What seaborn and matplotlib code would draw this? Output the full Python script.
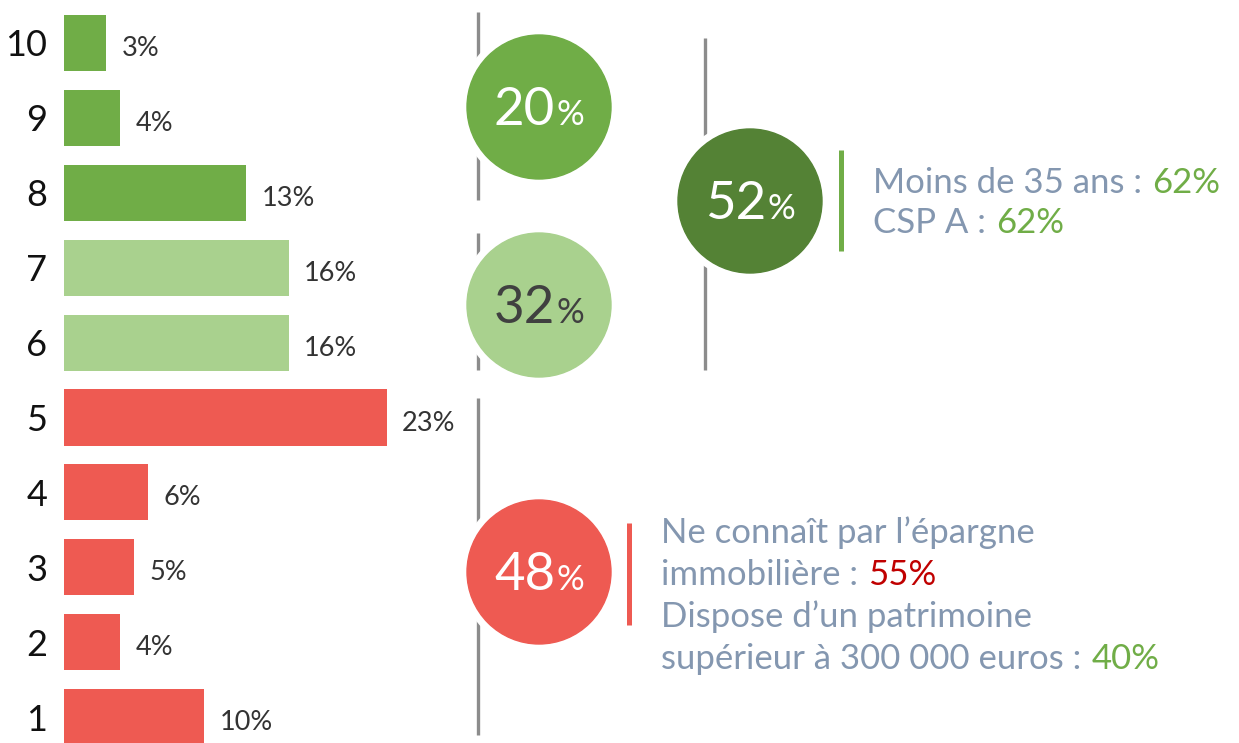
import matplotlib
matplotlib.use("Agg")
import matplotlib.pyplot as plt
import seaborn as sns
import pandas as pd
from matplotlib.patches import Circle

# --- data -------------------------------------------------------------
scores = ["10", "9", "8", "7", "6", "5", "4", "3", "2", "1"]
shares = [3, 4, 13, 16, 16, 23, 6, 5, 4, 10]
groups = ["prom", "prom", "prom", "pass", "pass",
          "detr", "detr", "detr", "detr", "detr"]

group_share = {"prom": 20, "pass": 32, "detr": 48}
favourable = 52

detr_lines = ["Ne connaît par l’épargne", "immobilière :",
              "Dispose d’un patrimoine", "supérieur à 300 000 euros :"]
detr_vals = {"immobilière :": ("55%", "#C00000"),
             "supérieur à 300 000 euros :": ("40%", "#70AD47")}

colors = {"prom": "#70AD47", "pass": "#A9D18E", "detr": "#EE5A52"}
dark_green = "#548235"
grey_txt = "#8497B0"
line_grey = "#8C8C8C"

sns.set_style("white")
plt.rcParams["font.family"] = ["Lato", "DejaVu Sans"]

W, H = 1239, 743
fig = plt.figure(figsize=(W / 100, H / 100), dpi=100)

# --- bar chart ------------------------------------------------------------
df = pd.DataFrame({"score": scores, "share": shares, "group": groups})
ax = fig.add_axes([64 / W, 0, 421 / W, 1])
sns.barplot(data=df, x="share", y="score", hue="group", palette=colors,
            dodge=False, width=0.75, orient="h", legend=False,
            saturation=1, linewidth=0, ax=ax)
ax.set_xlim(0, 30)
ax.set_ylim(9.346, -0.574)
for c in ax.containers:
    anns = ax.bar_label(c, fmt="%g%%", padding=12, fontsize=19.5,
                        color="#333333")
    for a in anns:
        a.xyann = (11, -4)
ax.set_xlabel("")
ax.set_ylabel("")
ax.set_xticks([])
ax.tick_params(axis="y", length=0, pad=12, labelsize=26, labelcolor="#111111")
sns.despine(ax=ax, left=True, bottom=True)

# --- overlay in pixel coordinates -----------------------------------------
ov = fig.add_axes([0, 0, 1, 1])
ov.set_xlim(0, W)
ov.set_ylim(H, 0)
ov.axis("off")

for x, y0, y1 in [(478, 12, 200), (478, 233, 370), (705, 38, 370), (478, 398, 735)]:
    ov.plot([x, x], [y0, y1], color=line_grey, lw=2.4, solid_capstyle="butt")

renderer = fig.canvas.get_renderer()

circles = [(539, 107, colors["prom"], group_share["prom"], "white"),
           (539, 305, colors["pass"], group_share["pass"], "#404040"),
           (750, 201, dark_green, favourable, "white"),
           (539, 572, colors["detr"], group_share["detr"], "white")]
for cx, cy, col, val, tcol in circles:
    ov.add_patch(Circle((cx, cy), 79, color="white", zorder=3))
    ov.add_patch(Circle((cx, cy), 72, color=col, zorder=4))
    num = ov.text(0, cy + 18, f"{val}", ha="left", va="baseline",
                  fontsize=38, color=tcol, zorder=5)
    pct = ov.text(0, cy + 18, "%", ha="left", va="baseline",
                  fontsize=25, color=tcol, zorder=5)
    w1 = num.get_window_extent(renderer).width
    w2 = pct.get_window_extent(renderer).width
    x0 = cx - (w1 + w2 + 1) / 2
    num.set_x(x0)
    pct.set_x(x0 + w1 + 1)

# accent bars
ov.plot([841, 841], [150, 251], color="#70AD47", lw=3.6, solid_capstyle="butt")
ov.plot([629, 629], [523, 625], color="#EE5A52", lw=3.6, solid_capstyle="butt")


def rich(x, y, parts, size):
    for s, c in parts:
        t = ov.text(x, y, s, color=c, fontsize=size, ha="left",
                    va="baseline")
        bb = t.get_window_extent(renderer)
        x = x + bb.width + size * 0.4


fs = 25
rich(873, 193, [("Moins de 35 ans :", grey_txt), ("62%", "#70AD47")], fs)
rich(873, 233, [("CSP A :", grey_txt), ("62%", "#70AD47")], fs)

ys = [543, 585, 627, 669]
for y, line in zip(ys, detr_lines):
    if line in detr_vals:
        val, col = detr_vals[line]
        rich(661, y, [(line, grey_txt), (val, col)], fs)
    else:
        rich(661, y, [(line, grey_txt)], fs)

fig.savefig("out.png", dpi=100)
